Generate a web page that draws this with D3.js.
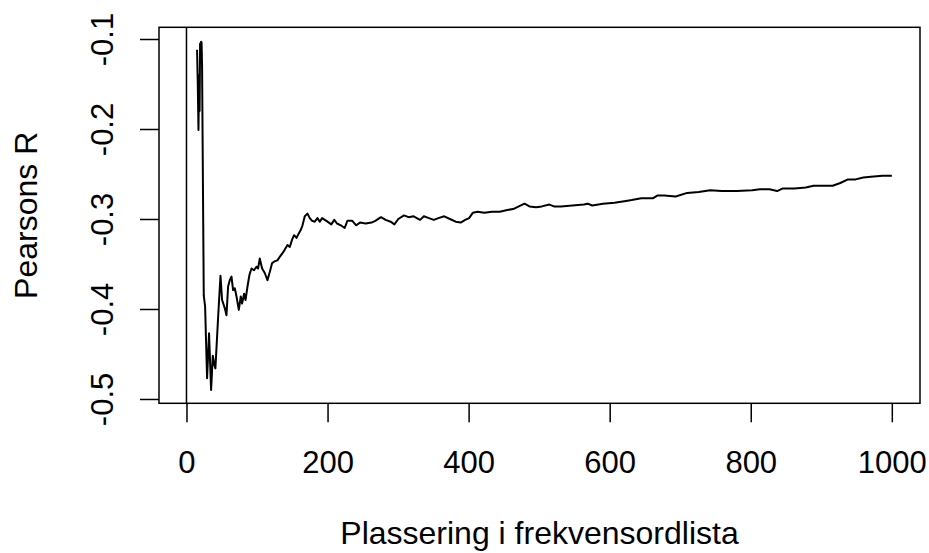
<!DOCTYPE html>
<html>
<head>
<meta charset="utf-8">
<script src="https://cdn.jsdelivr.net/npm/d3@7"></script>
<style>
  body { margin: 0; background: #fff; }
  svg { display: block; }
</style>
</head>
<body>
<script>
// Pearsons R mot plassering i frekvensordlista (R base-plot look)

var width = 929,
    height = 553;

// x = plassering, y = pearsons r
var rank = [15, 16, 17, 17.9, 18.6, 19.3, 20, 20.7, 21.4, 22.1, 24.5, 26.4, 29.2, 32, 34.9, 37.3, 39.4, 41,
  44.8, 48.2, 50.5, 54.3, 56.7, 59, 61.4, 63.8, 66.1, 68.5, 70.9, 74.2, 77, 78.8, 81.7, 83.7, 86.5, 89.3,
  92.2, 95.8, 99.2, 101.5, 103.9, 107.2, 111, 114.8, 118.1, 121.4, 125.2, 129, 132.3, 136.1, 139.4, 143.2,
  146.5, 149.7, 152.6, 156, 159.2, 162.1, 164.5, 167.7, 171.6, 174.8, 178.1, 181.9, 185.7, 189, 192.3,
  199.9, 205.3, 209.6, 213.4, 218.8, 224.3, 228.1, 235.1, 240.6, 246, 254.1, 262.3, 267.7, 275.8, 282.3,
  289.4, 294.8, 300.3, 308.4, 314.9, 322, 331.2, 336.6, 343.7, 350.6, 357.2, 365.4, 373.5, 381.7, 388.7,
  395.2, 400.7, 406.1, 412.6, 422.4, 433.2, 444.1, 454.9, 463.1, 471.2, 479.2, 486.3, 495.6, 503.8, 514.5,
  521.1, 530.8, 547.1, 563.4, 568.8, 575.3, 590.5, 606.8, 623.1, 631.2, 644.8, 661.1, 667.5, 677.3, 693.6,
  709.9, 726.2, 742.5, 758.7, 780.4, 802.1, 813, 826.6, 837.4, 845.6, 861.8, 878.1, 889, 905.3, 916.1,
  927, 937.8, 948.7, 959.5, 970.4, 986.7, 1000];

var pearsonR = [-0.112, -0.150, -0.201, -0.140, -0.180, -0.105, -0.125, -0.103, -0.104, -0.130, -0.385, -0.397,
  -0.477, -0.427, -0.490, -0.452, -0.462, -0.466,
  -0.410, -0.363, -0.390, -0.399, -0.407, -0.375, -0.368, -0.364, -0.379, -0.377, -0.386, -0.401, -0.386,
  -0.394, -0.383, -0.390, -0.375, -0.362, -0.355, -0.357, -0.353, -0.355, -0.344, -0.355, -0.360, -0.368,
  -0.359, -0.349, -0.347, -0.346, -0.342, -0.338, -0.334, -0.329, -0.331, -0.323, -0.318, -0.321, -0.316,
  -0.312, -0.307, -0.297, -0.294, -0.299, -0.302, -0.303, -0.299, -0.303, -0.299,
  -0.303, -0.306, -0.301, -0.305, -0.307, -0.310, -0.302, -0.302, -0.307, -0.304, -0.305, -0.304, -0.302,
  -0.298, -0.301, -0.303, -0.306, -0.300, -0.296, -0.298, -0.297, -0.301, -0.297, -0.299, -0.301, -0.299,
  -0.297, -0.300, -0.303, -0.304, -0.301, -0.299, -0.293, -0.292, -0.293, -0.292, -0.292, -0.290, -0.289,
  -0.286, -0.283, -0.286, -0.287, -0.286, -0.284, -0.286, -0.286, -0.285, -0.284, -0.283, -0.285, -0.283,
  -0.282, -0.280, -0.279, -0.277, -0.277, -0.274, -0.274, -0.275, -0.271, -0.270, -0.268, -0.269, -0.269,
  -0.268, -0.267, -0.267, -0.269, -0.266, -0.266, -0.265, -0.263, -0.263, -0.263, -0.260, -0.256, -0.256,
  -0.254, -0.253, -0.252, -0.252];

var xTicks = [0, 200, 400, 600, 800, 1000];
var yTicks = [-0.5, -0.4, -0.3, -0.2, -0.1];

var xLabel = "Plassering i frekvensordlista",
    yLabel = "Pearsons R";

// plot region (like par("plt")); don't call it "top", that's window.top
var plotLeft = 159, plotRight = 920, plotTop = 27.3, plotBottom = 403.3;
var font = "'Liberation Sans', Arial, sans-serif";

var data = rank.map((d, i) => ({x: d, y: pearsonR[i]}));

// R style 4% padding on x: 1..1000
var x = d3.scaleLinear()
    .domain([1 - 0.04 * 999, 1000 + 0.04 * 999])
    .range([plotLeft, plotRight]);

var y = d3.scaleLinear()
    .domain([-0.5048, -0.0870])
    .range([plotBottom, plotTop]);

var svg = d3.select("body").append("svg")
    .attr("width", width)
    .attr("height", height)
    .style("font-family", font);

svg.append("rect")
    .attr("width", width)
    .attr("height", height)
    .attr("fill", "#fff");

// abline(v = 0)
svg.append("line")
    .attr("x1", x(0)).attr("x2", x(0))
    .attr("y1", plotTop).attr("y2", plotBottom)
    .attr("stroke", "#000")
    .attr("stroke-width", 1.5);

var line = d3.line()
    .x(d => x(d.x))
    .y(d => y(d.y));

svg.append("path")
    .datum(data)
    .attr("fill", "none")
    .attr("stroke", "#000")
    .attr("stroke-width", 2)
    .attr("stroke-linejoin", "round")
    .attr("d", line);

// box
svg.append("rect")
    .attr("x", plotLeft).attr("y", plotTop)
    .attr("width", plotRight - plotLeft)
    .attr("height", plotBottom - plotTop)
    .attr("fill", "none")
    .attr("stroke", "#000")
    .attr("stroke-width", 1.5);

var gx = svg.append("g")
    .attr("transform", "translate(0," + plotBottom + ")")
    .call(d3.axisBottom(x).tickValues(xTicks).tickSize(19).tickFormat(d3.format("d")));
gx.select(".domain").remove();
gx.selectAll("line").attr("stroke-width", 1.5);
gx.selectAll("text")
    .attr("y", 473 - plotBottom)
    .attr("dy", null)
    .attr("font-size", 31)
    .attr("font-family", font)
    .attr("fill", "#000");

var gy = svg.append("g")
    .attr("transform", "translate(" + plotLeft + ",0)")
    .call(d3.axisLeft(y).tickValues(yTicks).tickSize(19));
gy.select(".domain").remove();
gy.selectAll("line").attr("stroke-width", 1.5);
gy.selectAll("text")
    .attr("x", null)
    .attr("dy", null)
    .attr("text-anchor", "middle")
    .attr("transform", "translate(" + (113 - plotLeft) + ",0) rotate(-90)")
    .attr("font-size", 31)
    .attr("font-family", font)
    .attr("fill", "#000")
    .text(d => d.toFixed(1));

// keep the descenders inside the picture
svg.append("text")
    .attr("x", (plotLeft + plotRight) / 2)
    .attr("y", 544)
    .attr("text-anchor", "middle")
    .attr("font-size", 32)
    .text(xLabel);

svg.append("text")
    .attr("transform", "translate(37," + ((plotTop + plotBottom) / 2) + ") rotate(-90)")
    .attr("text-anchor", "middle")
    .attr("font-size", 32)
    .text(yLabel);
</script>
</body>
</html>
